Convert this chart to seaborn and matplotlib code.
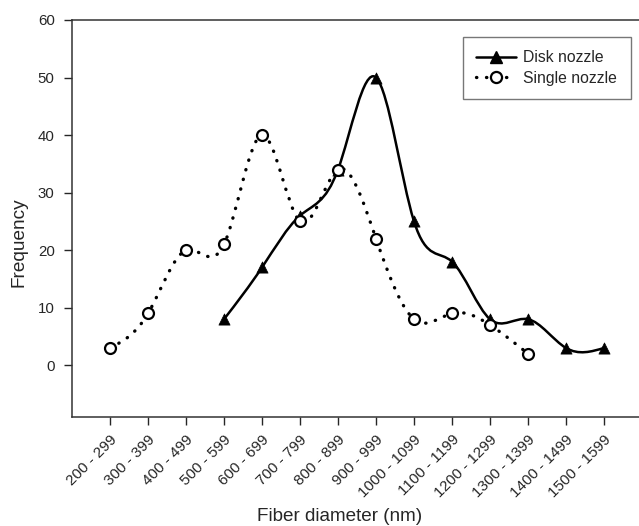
import numpy as np
import pandas as pd
import matplotlib
matplotlib.use("Agg")
import matplotlib.pyplot as plt
from matplotlib.path import Path
from matplotlib.patches import PathPatch
from matplotlib.lines import Line2D
import seaborn as sns

# Data
bins = ['200 - 299', '300 - 399', '400 - 499', '500 - 599', '600 - 699',
        '700 - 799', '800 - 899', '900 - 999', '1000 - 1099', '1100 - 1199',
        '1200 - 1299', '1300 - 1399', '1400 - 1499', '1500 - 1599']
disk_bins = bins[3:14]
disk_freq = [8, 17, 26, 34, 50, 25, 18, 8, 8, 3, 3]
single_bins = bins[0:12]
single_freq = [3, 9, 20, 21, 40, 25, 34, 22, 8, 9, 7, 2]

disk = pd.DataFrame({'bin': disk_bins, 'freq': disk_freq})
single = pd.DataFrame({'bin': single_bins, 'freq': single_freq})
disk['pos'] = [bins.index(b) for b in disk['bin']]
single['pos'] = [bins.index(b) for b in single['bin']]


def spline_path(x, y):
    # natural cubic spline through the points, drawn as bezier segments
    x = np.asarray(x, float)
    y = np.asarray(y, float)
    n = len(x)
    A = np.zeros((n, n))
    b = np.zeros(n)
    A[0, 0] = A[-1, -1] = 1
    for i in range(1, n - 1):
        A[i, i - 1], A[i, i], A[i, i + 1] = 1, 4, 1
        b[i] = 6 * (y[i + 1] - 2 * y[i] + y[i - 1])
    M = np.linalg.solve(A, b)
    verts = [(x[0], y[0])]
    codes = [Path.MOVETO]
    for i in range(n - 1):
        d = y[i + 1] - y[i]
        d0 = d - (2 * M[i] + M[i + 1]) / 6
        d1 = d + (M[i] + 2 * M[i + 1]) / 6
        verts += [(x[i] + 1 / 3, y[i] + d0 / 3),
                  (x[i + 1] - 1 / 3, y[i + 1] - d1 / 3),
                  (x[i + 1], y[i + 1])]
        codes += [Path.CURVE4] * 3
    return Path(verts, codes)


sns.set_style('ticks')
plt.rcParams['font.family'] = ['Liberation Sans', 'DejaVu Sans']

fig = plt.figure(figsize=(6.39, 5.26), dpi=100)
ax = fig.add_axes([0.1127, 0.2072, 0.892, 0.7548])

# Disk nozzle: solid spline + filled triangles
ax.add_patch(PathPatch(spline_path(disk['pos'], disk['freq']), fill=False,
                       edgecolor='black', lw=1.8, zorder=2))
sns.scatterplot(data=disk, x='pos', y='freq', marker='^', s=65,
                color='black', edgecolor='black', linewidth=0.5, ax=ax, zorder=3)

# Single nozzle: dotted spline + open circles
ax.add_patch(PathPatch(spline_path(single['pos'], single['freq']), fill=False,
                       edgecolor='black', lw=2.4, linestyle=(0, (0.1, 2.9)),
                       capstyle='round', zorder=4))
sns.scatterplot(data=single, x='pos', y='freq', marker='o', s=62,
                facecolor='white', edgecolor='black', linewidth=1.6, ax=ax, zorder=5)

ax.set_xlim(-1, 14)
ax.set_ylim(-9, 60)
ax.set_yticks(range(0, 61, 10))
ax.set_xticks(range(len(bins)))
ax.set_xticklabels(bins, rotation=45, ha='right', rotation_mode='anchor',
                   fontsize=11)
ax.tick_params(axis='y', labelsize=10.8, length=6, width=1, pad=6.5)
ax.tick_params(axis='x', length=6, width=1, pad=5)
ax.set_xlabel('Fiber diameter (nm)', fontsize=13.6)
ax.set_ylabel('Frequency', fontsize=13.7)
ax.xaxis.set_label_coords(0.470, -0.228)
ax.yaxis.set_label_coords(-0.078, 0.441)
ax.spines['right'].set_visible(False)
for s in ['left', 'top', 'bottom']:
    ax.spines[s].set_linewidth(1.1)
    ax.spines[s].set_color('#333333')

handles = [
    Line2D([], [], color='black', lw=1.8, marker='^', markersize=8),
    Line2D([], [], color='black', lw=2.4, linestyle=(0, (0.1, 2.9)),
           dash_capstyle='round', marker='o', markersize=8,
           markerfacecolor='white', markeredgewidth=1.6),
]
leg = ax.legend(handles, ['Disk nozzle', 'Single nozzle'], loc='upper left',
                bbox_to_anchor=(0.686, 0.957), fontsize=11.3, frameon=True,
                fancybox=False, handlelength=2.5, handletextpad=0.5,
                borderpad=0.85, labelspacing=0.35, borderaxespad=0)
leg.get_frame().set_edgecolor('#555555')
leg.get_frame().set_linewidth(1.0)

fig.savefig('out.png', dpi=100)
